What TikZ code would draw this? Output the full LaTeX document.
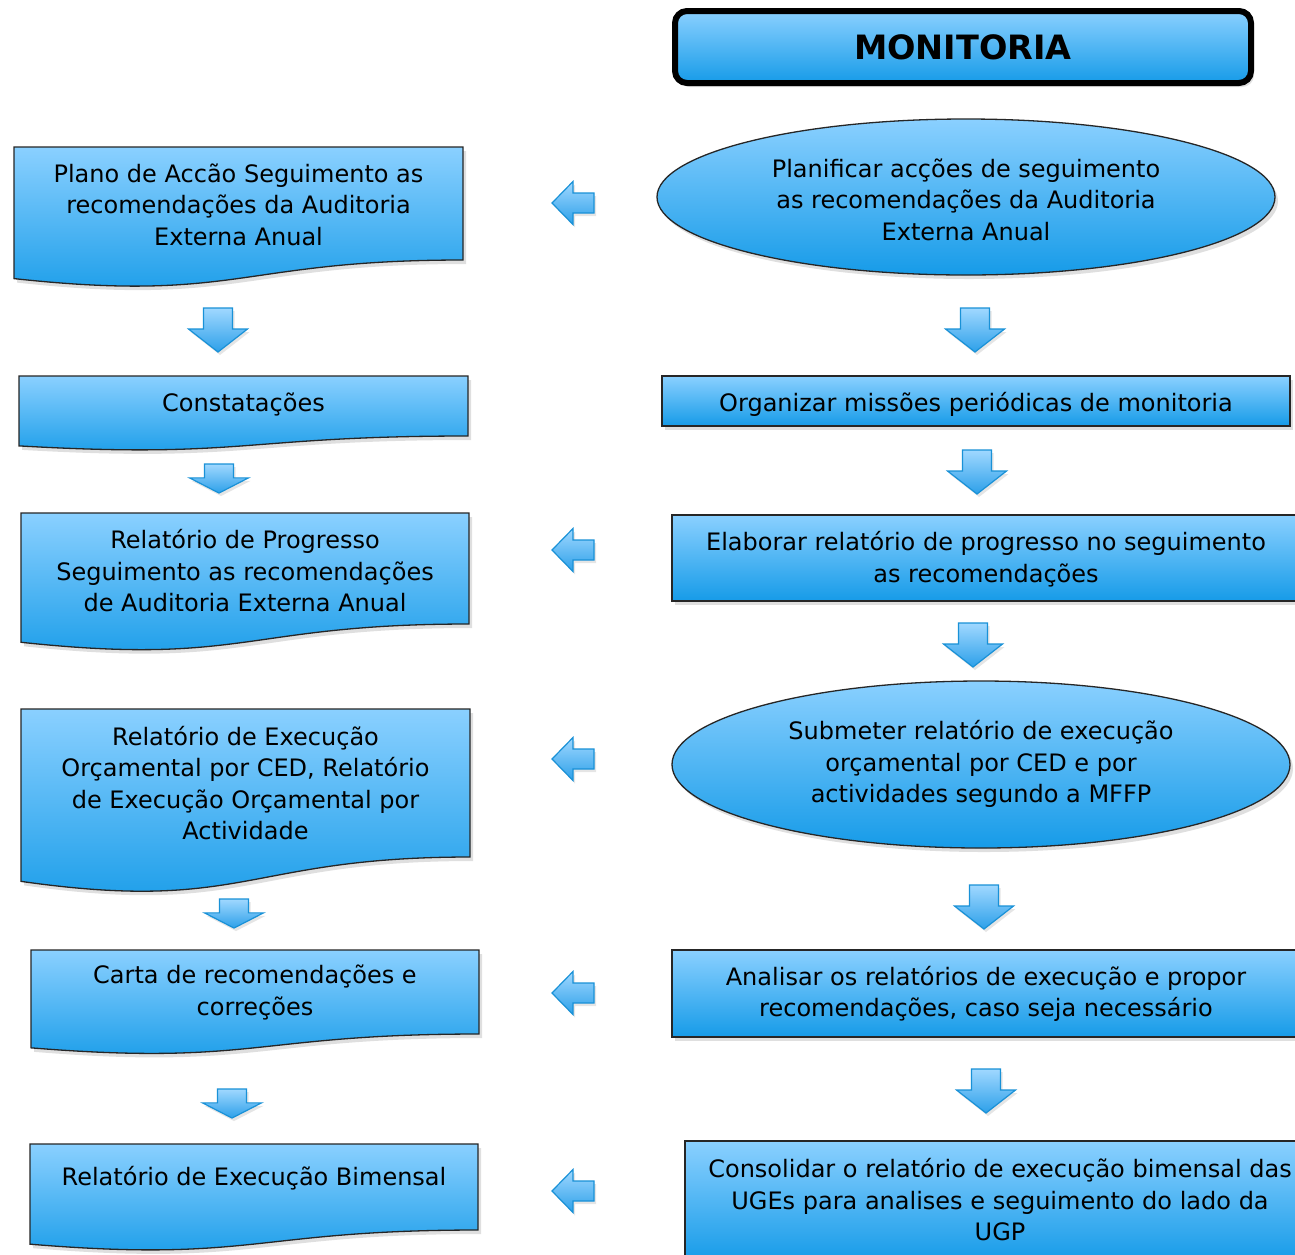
\documentclass[tikz,border=0pt]{standalone}
\usepackage{fontspec}
\setmainfont{DejaVu Sans}
\usetikzlibrary{shapes.geometric,shadows}

\definecolor{boxtop}{RGB}{138,208,255}
\definecolor{boxbot}{RGB}{22,155,232}
\definecolor{arrtop}{RGB}{160,216,255}
\definecolor{arrbot}{RGB}{45,160,233}
\definecolor{arrline}{RGB}{25,145,215}

\tikzset{
  boxfill/.style={top color=boxtop, bottom color=boxbot},
  soft/.style={drop shadow={opacity=0.25, shadow xshift=3pt, shadow yshift=-4pt}},
  shapeline/.style={boxfill, draw=black!85, line width=1.3pt, soft},
  txt/.style={align=center, font=\fontsize{24}{31.5}\selectfont, text=black, inner sep=0pt},
  blockarrow/.style={top color=arrtop, bottom color=arrbot, draw=arrline,
    line width=1.2pt, line join=miter,
    drop shadow={opacity=0.2, shadow xshift=2pt, shadow yshift=-3pt}},
  downarrow/.pic={\path[blockarrow] (-14.5,0) -- (14.5,0) -- (14.5,21) -- (29.5,21)
    -- (0,44) -- (-29.5,21) -- (-14.5,21) -- cycle;},
  leftarrow/.pic={\path[blockarrow] (0,0) -- (21,-21.5) -- (21,-10) -- (42,-10)
    -- (42,10) -- (21,10) -- (21,21.5) -- cycle;},
}

% document shape: name, left, top, right, right-bottom, text y, text
\newcommand\docbox[7]{%
  \pgfmathsetmacro\docH{(#5-#3)/0.802}%
  \pgfmathsetmacro\docLB{#3+0.934*\docH}%
  \pgfmathsetmacro\docCY{#3+1.1075*\docH}%
  \pgfmathsetmacro\docMX{(#2+#4)/2}%
  \path[shapeline] (#2,#3) -- (#4,#3) -- (#4,#5)
    .. controls (\docMX,#5) and (\docMX,\docCY) .. (#2,\docLB) -- cycle;
  \node[txt] (#1) at (\docMX,#6) {#7};
}

% process box: name, left, top, right, bottom, text x, text y, text
\newcommand\procbox[8]{%
  \path[shapeline] (#2,#3) rectangle (#4,#5);
  \node[txt] (#1) at (#6,#7) {#8};
}

% oval: name, centre x, centre y, x radius, y radius, text y, text
\newcommand\ovalbox[7]{%
  \path[shapeline] (#2,#3) ellipse [x radius=#4, y radius=#5];
  \node[txt] (#1) at (#2,#6) {#7};
}

\begin{document}
\begin{tikzpicture}[x=1pt, y=-1pt]
  \path[use as bounding box, fill=white] (0,0) rectangle (1295,1254);

  % title
  \node[rectangle, rounded corners=12pt, draw=black, line width=6pt, boxfill, soft,
        minimum width=576pt, minimum height=72pt, inner sep=0pt,
        font=\bfseries\fontsize{33.5}{36}\selectfont] (mon) at (963,47) {MONITORIA};

  % right column: activities
  \ovalbox{plan}{966}{197}{309}{78}{199.5}
    {Planificar acções de seguimento\\as recomendações da Auditoria\\Externa Anual}
  \procbox{org}{662}{376}{1290}{426}{976}{404.5}
    {Organizar missões periódicas de monitoria}
  \procbox{elab}{672}{515}{1300}{601}{986}{559}
    {Elaborar relatório de progresso no seguimento\\as recomendações}
  \ovalbox{subm}{981}{764.5}{309}{83.5}{764}
    {Submeter relatório de execução\\orçamental por CED e por\\actividades segundo a MFFP}
  \procbox{anal}{672}{950}{1300}{1037}{986}{994}
    {Analisar os relatórios de execução e propor\\recomendações, caso seja necessário}
  \procbox{cons}{685}{1141}{1315}{1262}{1000}{1200}
    {Consolidar o relatório de execução bimensal das\\UGEs para analises e seguimento do lado da\\UGP}

  % left column: resulting documents
  \docbox{pa}{14}{147}{463}{260}{204.5}
    {Plano de Accão Seguimento as\\recomendações da Auditoria\\Externa Anual}
  \docbox{const}{19}{376}{468}{436}{404.5}{Constatações}
  \docbox{rprog}{21}{513}{469}{624}{571}
    {Relatório de Progresso\\Seguimento as recomendações\\de Auditoria Externa Anual}
  \docbox{rexec}{21}{709}{470}{857}{783}
    {Relatório de Execução\\Orçamental por CED, Relatório\\de Execução Orçamental por\\Actividade}
  \docbox{carta}{31}{950}{479}{1034}{992.5}{Carta de recomendações e\\correções}
  \docbox{rbim}{30}{1144}{478}{1230}{1178.5}{Relatório de Execução Bimensal}

  % downward flow arrows
  \pic at (975,308) {downarrow};
  \pic at (977,450) {downarrow};
  \pic at (973,623) {downarrow};
  \pic at (984,885) {downarrow};
  \pic at (986,1069) {downarrow};
  \pic at (218,308) {downarrow};
  \pic[yscale=0.66] at (219,464) {downarrow};
  \pic[yscale=0.66] at (234,899) {downarrow};
  \pic[yscale=0.66] at (232,1089) {downarrow};

  % arrows from activities to documents
  \pic at (552,203) {leftarrow};
  \pic at (552,550) {leftarrow};
  \pic at (552,759) {leftarrow};
  \pic at (552,993) {leftarrow};
  \pic at (552,1191) {leftarrow};
\end{tikzpicture}
\end{document}
